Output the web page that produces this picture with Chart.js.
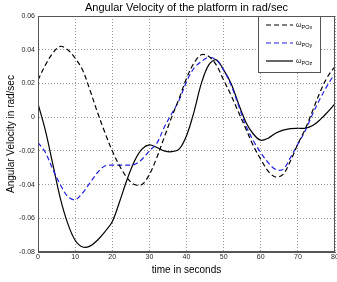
<!DOCTYPE html>
<html>
<head>
<meta charset="utf-8">
<script src="https://cdn.jsdelivr.net/npm/chart.js@4/dist/chart.umd.min.js"></script>
<style>
  html, body { margin: 0; padding: 0; background: #fff; }
  canvas { display: block; }
</style>
</head>
<body>
<canvas id="chart" width="337" height="282"></canvas>
<script>
// time in seconds
const time = [0, 2, 4, 6, 8, 10, 12, 14, 16, 18, 20, 22, 24, 26, 28, 30, 32, 34, 36, 38,
  40, 42, 44, 46, 48, 50, 52, 54, 56, 58, 60, 62, 64, 66, 68, 70, 72, 74, 76, 78, 80];

// angular velocity (rad/sec)
const omegaX = [0.022, 0.031, 0.038, 0.042, 0.040, 0.035, 0.028, 0.016, 0.003, -0.009,
  -0.020, -0.029, -0.036, -0.040, -0.040, -0.034, -0.024, -0.012, 0.000, 0.011,
  0.023, 0.032, 0.037, 0.036, 0.031, 0.022, 0.013, 0.003, -0.007, -0.017,
  -0.025, -0.032, -0.0355, -0.034, -0.026, -0.016, -0.007, 0.004, 0.015, 0.024, 0.030];

const omegaY = [-0.015, -0.021, -0.031, -0.040, -0.047, -0.049, -0.045, -0.039, -0.033, -0.029,
  -0.0285, -0.0285, -0.0285, -0.028, -0.025, -0.020, -0.0155, -0.006, 0.002, 0.010,
  0.021, 0.029, 0.033, 0.0355, 0.034, 0.028, 0.019, 0.007, -0.005, -0.014,
  -0.021, -0.027, -0.031, -0.031, -0.024, -0.016, -0.008, 0.002, 0.011, 0.019, 0.026];

const omegaZ = [0.008, -0.008, -0.028, -0.048, -0.063, -0.073, -0.077, -0.0765, -0.073, -0.068,
  -0.062, -0.050, -0.037, -0.026, -0.019, -0.0165, -0.018, -0.020, -0.0205, -0.019,
  -0.011, 0.003, 0.020, 0.031, 0.034, 0.028, 0.020, 0.008, -0.003, -0.010,
  -0.0137, -0.0125, -0.0095, -0.0077, -0.0068, -0.0066, -0.0066, -0.005, -0.0015, 0.003, 0.008];

const seriesSubs = ['POx', 'POy', 'POz'];
const seriesColors = ['#000000', '#1f1fe0', '#000000'];
const seriesDash = [[5, 3], [5, 3], []];

const toPoints = vals => vals.map((v, i) => ({ x: time[i], y: v }));

const tickFont = { family: 'Liberation Sans, Arial, sans-serif', size: 7 };
const labelFont = { family: 'Liberation Sans, Arial, sans-serif', size: 10 };

// axes box (MATLAB "box on")
const boxPlugin = {
  id: 'box',
  afterDraw(chart) {
    const { ctx, chartArea: a } = chart;
    ctx.save();
    ctx.strokeStyle = '#555';
    ctx.lineWidth = 1;
    ctx.strokeRect(Math.round(a.left) + 0.5, Math.round(a.top) + 0.5,
      Math.round(a.right - a.left) - 1, Math.round(a.bottom - a.top) - 1);
    ctx.restore();
  }
};

// legend box in the top right corner
const legendPlugin = {
  id: 'matlabLegend',
  afterDatasetsDraw(chart) {
    const { ctx, chartArea: a } = chart;
    const x0 = 258, y0 = Math.round(a.top) + 0.5, w = 62, h = 56;
    ctx.save();
    ctx.fillStyle = '#fff';
    ctx.fillRect(x0, y0, w, h);
    ctx.strokeStyle = '#555';
    ctx.lineWidth = 1;
    ctx.strokeRect(x0 + 0.5, y0, w, h);
    chart.data.datasets.forEach((ds, i) => {
      const y = 25 + i * 18;
      ctx.beginPath();
      ctx.setLineDash(ds.borderDash || []);
      ctx.strokeStyle = ds.borderColor;
      ctx.lineWidth = ds.borderWidth;
      ctx.moveTo(266, y);
      ctx.lineTo(293, y);
      ctx.stroke();
      ctx.setLineDash([]);
      ctx.fillStyle = '#000';
      ctx.textBaseline = 'alphabetic';
      ctx.font = '7px "Liberation Sans", Arial, sans-serif';
      ctx.fillText('ω', 296, y + 2);
      const ow = ctx.measureText('ω').width;
      ctx.font = '5.5px "Liberation Sans", Arial, sans-serif';
      ctx.fillText(seriesSubs[i], 296 + ow, y + 4);
    });
    ctx.restore();
  }
};

new Chart(document.getElementById('chart'), {
  type: 'line',
  data: {
    datasets: [omegaX, omegaY, omegaZ].map((vals, i) => ({
      label: 'ω' + seriesSubs[i],
      data: toPoints(vals),
      borderColor: seriesColors[i],
      borderDash: seriesDash[i],
      borderWidth: 1.2,
      pointRadius: 0,
      tension: 0.35,
      fill: false
    }))
  },
  options: {
    responsive: false,
    animation: false,
    devicePixelRatio: 1,
    layout: { padding: { left: 0, right: 2, top: 0, bottom: 0 } },
    plugins: {
      legend: { display: false },
      tooltip: { enabled: false },
      title: {
        display: true,
        fullSize: false,
        text: 'Angular Velocity of the platform in rad/sec',
        color: '#000',
        font: { family: 'Liberation Sans, Arial, sans-serif', size: 11, weight: 'normal' },
        padding: { top: 1, bottom: 1.8 }
      }
    },
    scales: {
      x: {
        type: 'linear',
        min: 0,
        max: 80,
        ticks: { stepSize: 10, font: tickFont, color: '#262626', padding: 1, maxRotation: 0 },
        grid: { color: 'rgba(0,0,0,0.4)', drawTicks: false },
        border: { color: '#555', dash: [1, 2] },
        title: { display: true, text: 'time in seconds', color: '#000', font: labelFont,
          padding: { top: 0, bottom: 6 } },
        afterFit(scale) { scale.height = 30; scale.paddingLeft = 0; scale.paddingRight = 0; }
      },
      y: {
        min: -0.08,
        max: 0.06,
        ticks: {
          stepSize: 0.02, font: tickFont, color: '#262626', padding: 3,
          callback: v => String(+v.toFixed(2))
        },
        grid: { color: 'rgba(0,0,0,0.4)', drawTicks: false },
        border: { color: '#555', dash: [1, 2] },
        title: { display: true, text: 'Angular Velocity in rad/sec', color: '#000', font: labelFont,
          padding: { top: 5, bottom: 0 } },
        afterFit(scale) { scale.width = 38; scale.paddingTop = 0; scale.paddingBottom = 0; }
      }
    }
  },
  plugins: [boxPlugin, legendPlugin]
});
</script>
</body>
</html>
